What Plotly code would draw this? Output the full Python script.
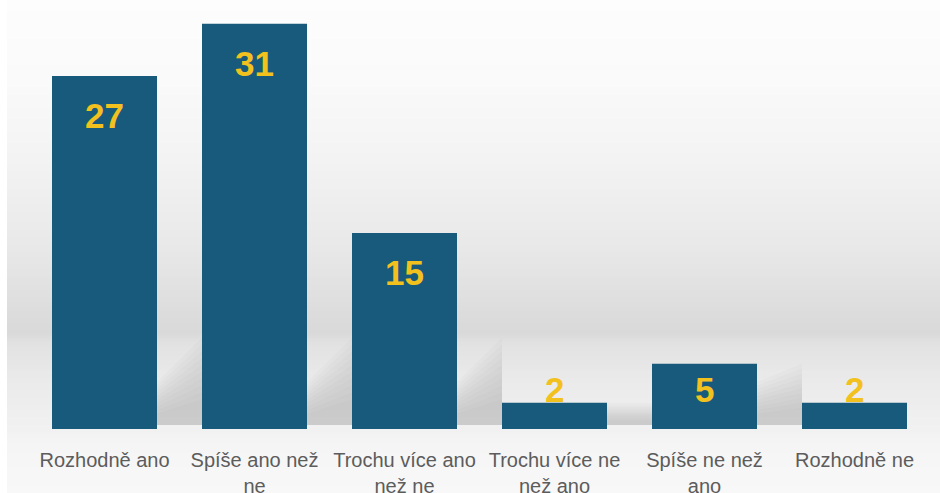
import plotly.graph_objects as go

# Survey answers and counts
categories = [
    "Rozhodně ano",
    "Spíše ano než<br>ne",
    "Trochu více ano<br>než ne",
    "Trochu více ne<br>než ano",
    "Spíše ne než<br>ano",
    "Rozhodně ne",
]
counts = [27, 31, 15, 2, 5, 2]

BAR_COLOR = "#175a7c"
LABEL_COLOR = "#f2c11d"
TEXT_COLOR = "#5c5c5c"

W, H = 940, 493
PLOT_H = 429           # pixel height of plot area (top margin 0)
Y_MAX = 32.82
BAR_W = 0.7

x = list(range(len(categories)))

fig = go.Figure()
fig.add_trace(go.Bar(
    x=x, y=counts, width=BAR_W,
    marker=dict(color=BAR_COLOR, line=dict(width=0)),
    hoverinfo="skip",
))

# value labels near the top of each bar, never lower than a minimum height
label_y = [max(v - 3, 3) for v in counts]
for xi, v, ly in zip(x, counts, label_y):
    fig.add_annotation(
        x=xi, y=ly, text=str(v), showarrow=False,
        font=dict(family="Liberation Sans", size=35, color=LABEL_COLOR, weight="bold"),
        xanchor="center", yanchor="middle",
    )

shapes = []

# vertical background gradient: light top, grey band near floor, lighter floor
stops = [
    (0, (253, 253, 253)),
    (80, (250, 250, 250)),
    (160, (243, 243, 243)),
    (250, (232, 232, 232)),
    (310, (221, 221, 221)),
    (333, (217, 217, 217)),
    (345, (226, 226, 226)),
    (380, (234, 234, 234)),
    (429, (241, 241, 241)),
    (445, (245, 245, 245)),
    (493, (248, 248, 248)),
]


def color_at(py):
    for (p0, c0), (p1, c1) in zip(stops[:-1], stops[1:]):
        if p0 <= py <= p1:
            t = (py - p0) / (p1 - p0) if p1 > p0 else 0
            return tuple(round(a + (b - a) * t) for a, b in zip(c0, c1))
    return stops[-1][1]


step = 3
for py in range(0, H, step):
    r, g, b = color_at(py + step / 2)
    shapes.append(dict(
        type="rect", xref="paper", yref="paper", layer="below",
        x0=7 / W, x1=1.0,
        y0=(PLOT_H - py - step - 0.5) / PLOT_H, y1=(PLOT_H - py + 0.5) / PLOT_H,
        fillcolor=f"rgb({r},{g},{b})", line=dict(width=0),
    ))

# soft diagonal shadows cast to the right of each bar (stacked faint layers)
n_layers = 10
for i, v in enumerate(counts[:-1]):
    xl = i + BAR_W / 2
    xr = i + 1 - BAR_W / 2
    top_l = min(v, 3.6)
    top_r = min(v, 7.0)
    for k in range(n_layers):
        f = k / n_layers
        h_left = top_l * (1 - 0.75 * f)
        h_right = top_r * (1 - 0.75 * f)
        shapes.append(dict(
            type="path", xref="x", yref="y", layer="below",
            path=f"M {xl},0.3 L {xl},{h_left:.3f} L {xr},{h_right:.3f} L {xr},0.3 Z",
            fillcolor="rgba(70,70,70,0.022)", line=dict(width=0),
        ))

fig.update_layout(
    width=W, height=H,
    margin=dict(l=0, r=0, t=0, b=H - PLOT_H, pad=0, autoexpand=False),
    paper_bgcolor="white",
    plot_bgcolor="rgba(0,0,0,0)",
    showlegend=False,
    bargap=0.3,
    shapes=shapes,
    font=dict(family="Liberation Sans", color=TEXT_COLOR),
    xaxis=dict(
        domain=[29.5 / W, 929.5 / W],
        range=[-0.5, len(categories) - 0.5],
        tickmode="array", tickvals=x, ticktext=categories,
        tickfont=dict(family="Liberation Sans", size=20, color=TEXT_COLOR),
        showgrid=False, zeroline=False, showline=False,
        ticks="", ticklabelstandoff=17, automargin=False,
    ),
    yaxis=dict(
        range=[0, Y_MAX], visible=False, showgrid=False, zeroline=False,
        automargin=False,
    ),
)

fig.write_html("out.html")
